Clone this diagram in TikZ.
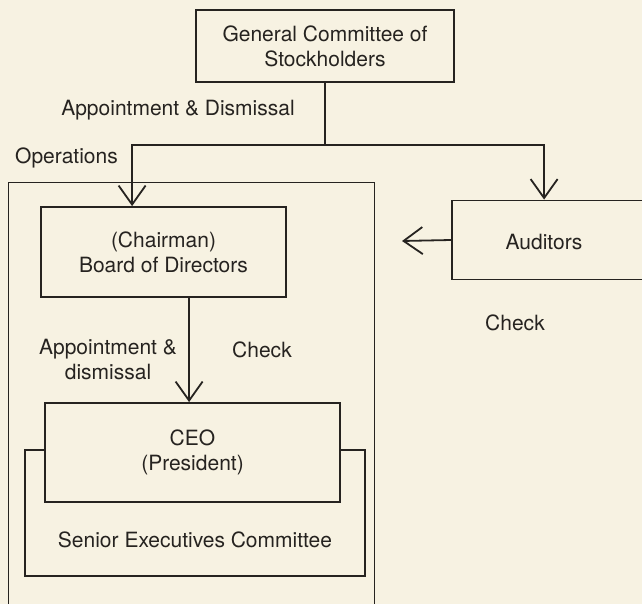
\documentclass[tikz,border=0pt]{standalone}
\usepackage{fontspec}
\setmainfont{TeX Gyre Heros}
\usetikzlibrary{arrows.meta}
\definecolor{paper}{RGB}{247,242,226}
\definecolor{ink}{RGB}{38,35,32}
\begin{document}
\begin{tikzpicture}[x=1pt,y=-1pt,
  every node/.style={text=ink,font=\fontsize{21}{25}\selectfont},
  box/.style={draw=ink,line width=1.8pt,rectangle,inner sep=0pt,align=center},
  lbl/.style={inner sep=0pt,align=center},
  link/.style={draw=ink,line width=1.8pt},
  arr/.style={link,-{Straight Barb[length=19pt,width=27pt,line width=1.8pt]}}]
  % page
  \fill[paper] (0,0) rectangle (642,604);
  \useasboundingbox (0,0) rectangle (642,604);
  \clip (0,0) rectangle (642,604);

  % operations frame
  \draw[ink,line width=1pt] (8,183) rectangle (374,640);

  % boxes
  \node[box,minimum width=258,minimum height=72] (gcs) at (325,46)
    {General Committee of\\Stockholders};
  \node[box,minimum width=245,minimum height=90] (board) at (163.5,252)
    {(Chairman)\\Board of Directors};
  \node[box,minimum width=230,minimum height=79] (aud) at (567,240) {};
  \node[lbl] (audtxt) at (544,242) {Auditors};
  \node[box,line width=1.4pt,fill=paper,minimum width=340,minimum height=126] (sec) at (195,513) {};
  \node[lbl] (sectxt) at (195,540) {Senior Executives Committee};
  \node[box,fill=paper,minimum width=295,minimum height=99] (ceo) at (192.5,452.5)
    {CEO\\(President)};

  % connectors
  \coordinate (j) at (325,145);
  \coordinate (chk) at (402,241);
  \draw[link] (gcs.south) -- (j);
  \draw[arr] (j) -| ([xshift=92pt]board.north west);
  \draw[arr] (j) -| ([xshift=93pt]aud.north west);
  \draw[arr] ([xshift=149pt]board.south west) -- ([xshift=149pt]board.south west |- ceo.north);
  \draw[arr] (aud.west) -- (chk);

  % labels
  \node[lbl] (ad1) at (178,110) {Appointment \& Dismissal};
  \node[lbl,anchor=west] (ops) at (15,158) {Operations};
  \node[lbl] (ad2) at (108,360) {Appointment \&\\dismissal};
  \node[lbl] (chk1) at (262,350) {Check};
  \node[lbl] (chk2) at (515,323) {Check};
\end{tikzpicture}
\end{document}
